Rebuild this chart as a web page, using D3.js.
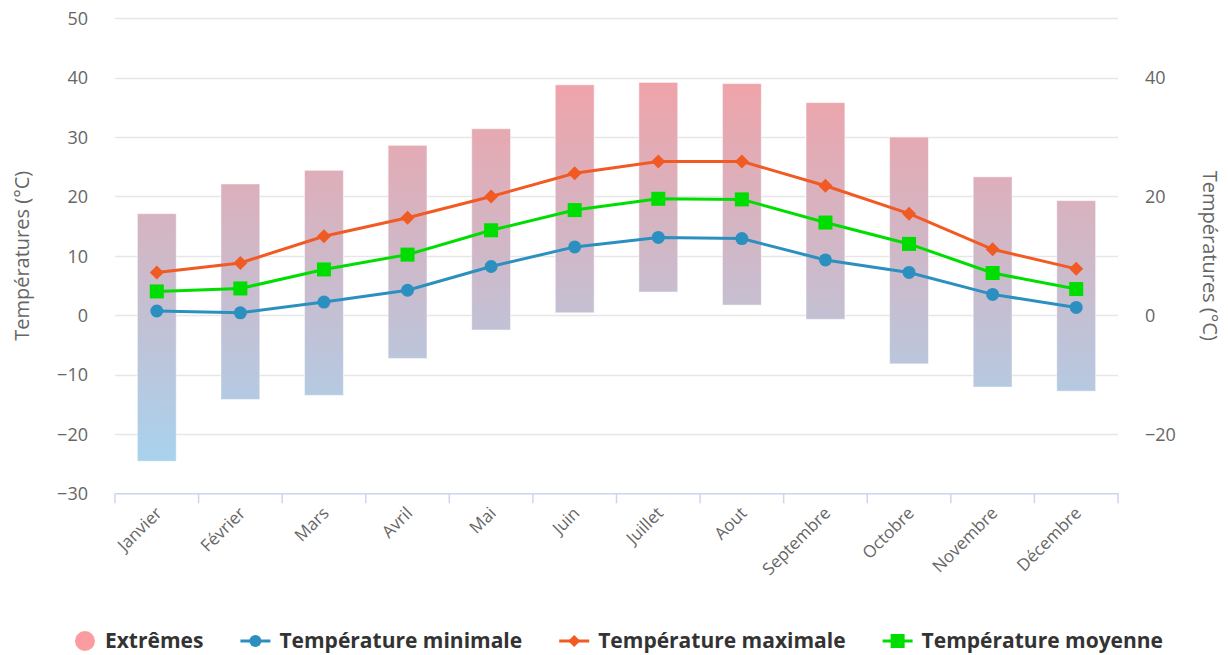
<!DOCTYPE html>
<html><head><meta charset="utf-8">
<script src="https://cdn.jsdelivr.net/npm/d3@7/dist/d3.min.js"></script>
<style>
html,body{margin:0;padding:0;background:#fff;}
svg{display:block;font-family:"Open Sans",sans-serif;}
</style></head>
<body><svg id="chart" width="1228" height="655"></svg>
<script>
const months = ["Janvier","Février","Mars","Avril","Mai","Juin","Juillet","Aout","Septembre","Octobre","Novembre","Décembre"];
const extremeLow  = [-24.6,-14.2,-13.5,-7.3,-2.5,0.4,3.9,1.7,-0.7,-8.2,-12.1,-12.8];
const extremeHigh = [17.1,22.1,24.4,28.6,31.4,38.8,39.2,39.0,35.8,30.0,23.3,19.3];
const tempMin  = [0.7,0.4,2.2,4.2,8.2,11.5,13.1,12.9,9.3,7.2,3.5,1.3];
const tempMax  = [7.2,8.8,13.3,16.4,20.0,23.9,25.9,25.9,21.8,17.1,11.1,7.8];
const tempMoy  = [4.0,4.5,7.7,10.2,14.3,17.7,19.6,19.5,15.6,12.0,7.1,4.4];
const leftTicks  = [-30,-20,-10,0,10,20,30,40,50];
const rightTicks = [-20,0,20,40];
const axisTitle = "Températures (°C)";
const legendNames = ["Extrêmes","Température minimale","Température maximale","Température moyenne"];

const svg = d3.select("#chart");
const L = 115, R = 1118, T = 18.3, B = 493.3;
const x = d3.scaleBand().domain(months).range([L,R]).paddingInner(0).paddingOuter(0);
const y = d3.scaleLinear().domain([-30,50]).range([B,T]);
const y2 = d3.scaleLinear().domain([-30,50]).range([B,T]);
const cx = m => x(m) + x.bandwidth()/2;

// gradient
const defs = svg.append("defs");
const grad = defs.append("linearGradient").attr("id","barGrad")
  .attr("gradientUnits","userSpaceOnUse").attr("x1",0).attr("x2",0)
  .attr("y1",y(42)).attr("y2",y(-26));
grad.append("stop").attr("offset","0%").attr("stop-color","#f2a1a6");
grad.append("stop").attr("offset","100%").attr("stop-color","#a7d3ef");

// grid
svg.append("g").selectAll("line").data(leftTicks.filter(d=>d>-30)).join("line")
  .attr("x1",L).attr("x2",R).attr("y1",d=>Math.round(y(d))+0.5).attr("y2",d=>Math.round(y(d))+0.5)
  .attr("stroke","#e6e6e6").attr("stroke-width",1.5);

// left axis labels
const fmt = d=>d<0?"\u2212"+Math.abs(d):d;
const yAxis = d3.axisLeft(y).tickValues(leftTicks).tickSize(0).tickPadding(0).tickFormat(fmt);
const gl = svg.append("g").attr("transform",`translate(${L-27},0)`).call(yAxis);
gl.select(".domain").remove();
gl.selectAll("text").attr("fill","#666").attr("font-size","18px").attr("font-family","Open Sans").attr("dy","0.35em");

// right axis labels
const yAxis2 = d3.axisRight(y2).tickValues(rightTicks).tickSize(0).tickPadding(0).tickFormat(fmt);
const gr = svg.append("g").attr("transform",`translate(${R+27},0)`).call(yAxis2);
gr.select(".domain").remove();
gr.selectAll("text").attr("fill","#666").attr("font-size","18px").attr("font-family","Open Sans").attr("dy","0.35em");

// axis titles
svg.append("text").attr("transform",`translate(29,${(T+B)/2}) rotate(-90)`)
  .attr("text-anchor","middle").attr("fill","#666").attr("font-size","20px").text(axisTitle);
svg.append("text").attr("transform",`translate(1203,${(T+B)/2}) rotate(90)`)
  .attr("text-anchor","middle").attr("fill","#666").attr("font-size","20px").text(axisTitle);

// bars
const bw = x.bandwidth()*0.465;
svg.append("g").selectAll("rect").data(months).join("rect")
  .attr("x",(m)=>cx(m)-bw/2).attr("width",bw)
  .attr("y",(m,i)=>y(extremeHigh[i])).attr("height",(m,i)=>y(extremeLow[i])-y(extremeHigh[i]))
  .attr("fill","url(#barGrad)").attr("stroke","#fff").attr("stroke-opacity",0.5).attr("stroke-width",1);

// x axis
const xAxis = d3.axisBottom(x).tickSize(0).tickFormat(d=>d);
const gx = svg.append("g").attr("transform",`translate(0,${B})`).call(xAxis);
gx.select(".domain").attr("stroke","#ccd6eb").attr("stroke-width",1.5);
gx.selectAll(".tick text").attr("fill","#666").attr("font-size","17px").attr("font-family","Open Sans")
  .attr("text-anchor","end").attr("dy",0).attr("y",0)
  .attr("transform","translate(6,21) rotate(-45)");
const bounds = [L].concat(months.map(m=>x(m)+x.bandwidth()));
svg.append("g").selectAll("line").data(bounds).join("line")
  .attr("x1",d=>d).attr("x2",d=>d).attr("y1",B).attr("y2",B+10)
  .attr("stroke","#ccd6eb").attr("stroke-width",1.5);

// lines
const series = [
  {vals:tempMin, color:"#2b90c0", sym:"circle"},
  {vals:tempMax, color:"#f15a22", sym:"diamond"},
  {vals:tempMoy, color:"#00dd00", sym:"square"}
];
const lineGen = d3.line().x((d,i)=>cx(months[i])).y(d=>y(d));
series.forEach(s=>{
  svg.append("path").attr("d",lineGen(s.vals)).attr("fill","none").attr("stroke",s.color).attr("stroke-width",3);
});
function drawSym(g, sym, color, px, py){
  if(sym==="circle") g.append("circle").attr("cx",px).attr("cy",py).attr("r",6.5).attr("fill",color);
  else if(sym==="diamond") g.append("path").attr("d",`M${px},${py-7}L${px+7},${py}L${px},${py+7}L${px-7},${py}Z`).attr("fill",color);
  else g.append("rect").attr("x",px-7).attr("y",py-7).attr("width",14).attr("height",14).attr("fill",color);
}
series.forEach(s=>{
  const g = svg.append("g");
  s.vals.forEach((v,i)=>drawSym(g,s.sym,s.color,cx(months[i]),y(v)));
});

// legend
const lg = svg.append("g");
const ly = 641;
const items = [
  {name:legendNames[0], type:"bar", color:"#fa9ca0"},
  {name:legendNames[1], type:"line", color:"#2b90c0", sym:"circle"},
  {name:legendNames[2], type:"line", color:"#f15a22", sym:"diamond"},
  {name:legendNames[3], type:"line", color:"#00dd00", sym:"square"}
];
const LFS = "21px";
let widths = [];
const tmp = lg.append("text").attr("font-size",LFS).attr("font-weight","bold");
items.forEach(it=>{ tmp.text(it.name); widths.push(tmp.node().getComputedTextLength()); });
tmp.remove();
const symW = [21,30,30,30], gapTxt = 9, itemGap = 37;
let total = 0;
items.forEach((it,i)=>{ total += symW[i]+gapTxt+widths[i] + (i<items.length-1?itemGap:0); });
let lx = 619 - total/2;
items.forEach((it,i)=>{
  if(it.type==="bar"){
    lg.append("circle").attr("cx",lx+10).attr("cy",ly).attr("r",10).attr("fill",it.color);
  } else {
    lg.append("line").attr("x1",lx).attr("x2",lx+30).attr("y1",ly).attr("y2",ly).attr("stroke",it.color).attr("stroke-width",3);
    if(it.sym==="circle") lg.append("circle").attr("cx",lx+15).attr("cy",ly).attr("r",6).attr("fill",it.color);
    else if(it.sym==="diamond") lg.append("path").attr("d",`M${lx+15},${ly-6}L${lx+21},${ly}L${lx+15},${ly+6}L${lx+9},${ly}Z`).attr("fill",it.color);
    else lg.append("rect").attr("x",lx+8).attr("y",ly-7).attr("width",14).attr("height",14).attr("fill",it.color);
  }
  lg.append("text").attr("x",lx+symW[i]+gapTxt).attr("y",ly).attr("dy","0.35em")
    .attr("font-size",LFS).attr("font-weight","bold").attr("fill","#333").text(it.name);
  lx += symW[i]+gapTxt+widths[i]+itemGap;
});
</script></body></html>
